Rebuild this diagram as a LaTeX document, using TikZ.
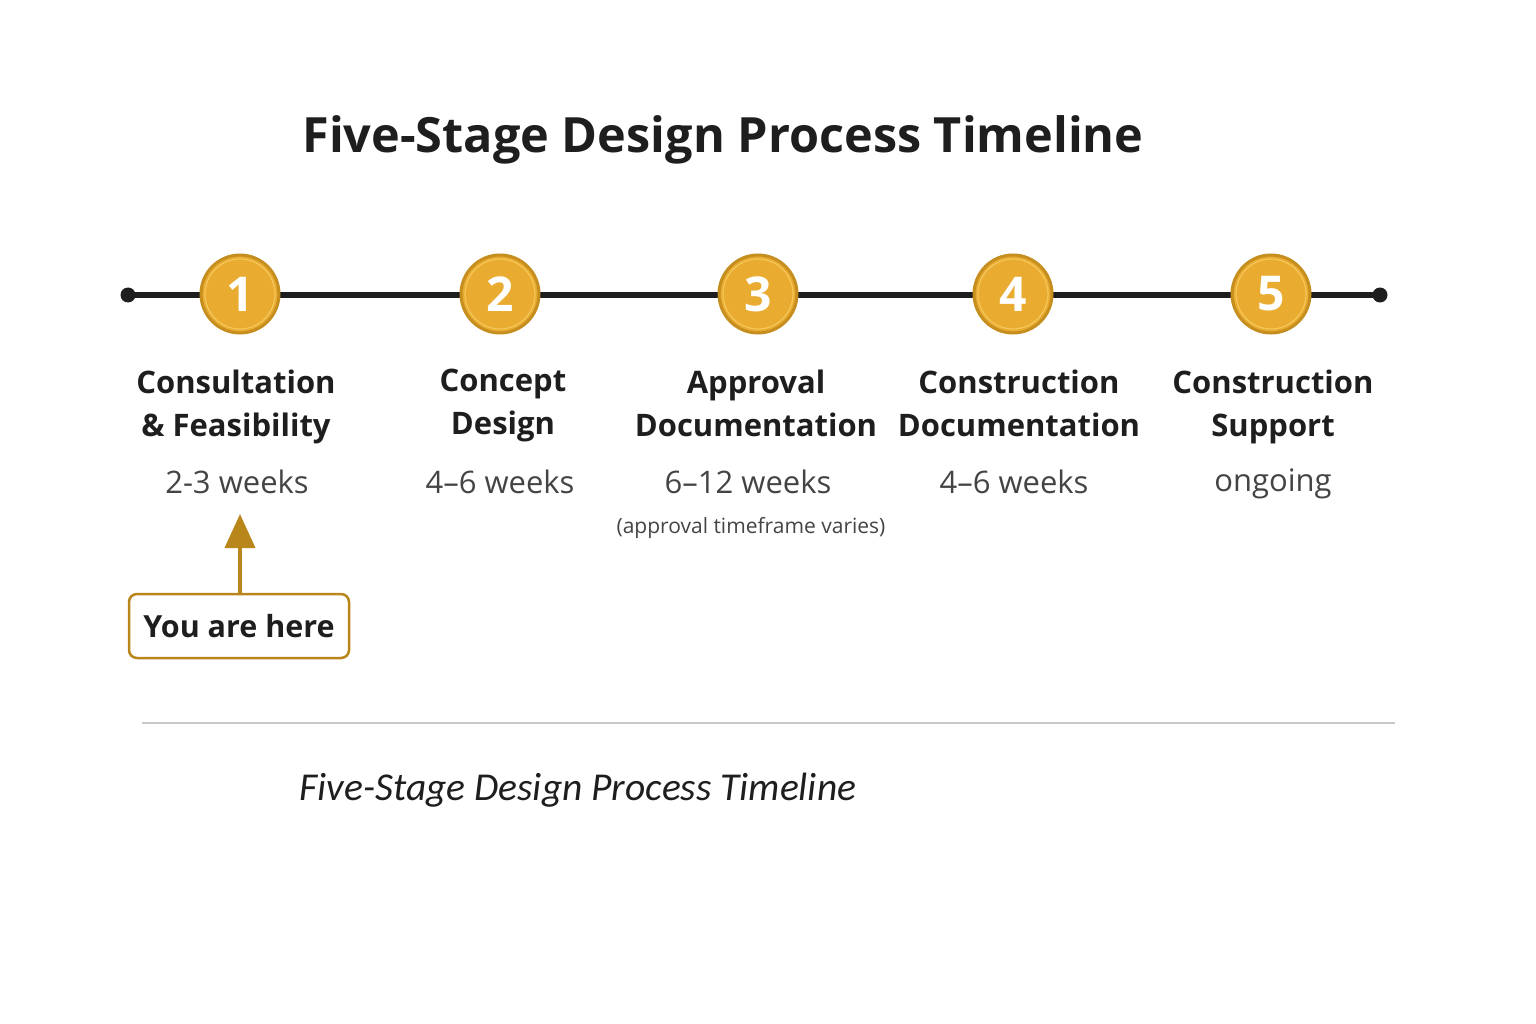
\documentclass[tikz,border=0pt]{standalone}
\usepackage{fontspec}
\setmainfont{Open Sans}
\newfontfamily\capfont{Carlito}
\usetikzlibrary{arrows.meta}
\definecolor{gold}{HTML}{E9AB30}
\definecolor{golddark}{HTML}{C58E1E}
\definecolor{goldlight}{HTML}{F5C75A}
\definecolor{arrowgold}{HTML}{B8861B}
\definecolor{linedark}{HTML}{1E1E1E}
\definecolor{txtgray}{HTML}{444444}
\definecolor{sepgray}{HTML}{C8C8C8}
\tikzset{
  stagecirc/.style={circle, fill=gold, draw=golddark, line width=3pt, minimum size=78pt, inner sep=0pt,
    text=white, font=\fontsize{48}{50}\selectfont\bfseries},
  stagelabel/.style={align=center, text=linedark, font=\fontsize{31}{43}\selectfont\bfseries, anchor=north},
  weeks/.style={text=txtgray, font=\fontsize{31}{34}\selectfont},
  enddot/.style={circle, fill=linedark, minimum size=15pt, inner sep=0pt},
  herebox/.style={draw=arrowgold, line width=2.5pt, rounded corners=8pt, minimum width=220pt, minimum height=64pt,
    font=\fontsize{30.5}{36}\selectfont\bfseries, text=linedark, fill=white},
}
\begin{document}
\begin{tikzpicture}[x=1pt,y=-1pt]
\useasboundingbox (0,0) rectangle (1536,1024);
\fill[white] (0,0) rectangle (1536,1024);
\node[font=\fontsize{48.6}{54}\selectfont\bfseries, text=linedark] (title) at (723,140) {Five-Stage Design Process Timeline};
\node[enddot] (dl) at (128,295) {};
\node[enddot] (dr) at (1380,295) {};
\draw[linedark, line width=6pt] (dl.center) -- (dr.center);
\foreach \n/\x in {1/240,2/500,3/758,4/1013,5/1271}{
  \node[stagecirc] (c\n) at (\x,294) {\n};
  \draw[goldlight, line width=1.2pt] (c\n.center) circle (35pt);
}
\node[stagelabel] (l1) at (236,366) {Consultation\\\& Feasibility};
\node[stagelabel] (l2) at (503,366) {Concept\\Design};
\node[stagelabel] (l3) at (756,366) {Approval\\Documentation};
\node[stagelabel] (l4) at (1019,366) {Construction\\Documentation};
\node[stagelabel] (l5) at (1273,366) {Construction\\Support};
\node[weeks] (w1) at (237,482) {2-3 weeks};
\node[weeks] (w2) at (500,482) {4–6 weeks};
\node[weeks] (w3) at (748,482) {6–12 weeks};
\node[weeks] (w4) at (1014,482) {4–6 weeks};
\node[weeks] (w5) at (1273,484) {ongoing};
\node[text=txtgray, font=\fontsize{21}{25}\selectfont] (note) at (751,528) {(approval timeframe varies)};
\node[herebox] (here) at (239,626) {You are here};
\coordinate (tip) at (240,514);
\draw[arrowgold, line width=4pt, -{Triangle[length=34pt,width=30pt]}] (here.north -| tip) -- (tip);
\coordinate (s1) at (142,723);
\coordinate (s2) at (1395,723);
\draw[sepgray, line width=2pt] (s1) -- (s2);
\node[font=\capfont\itshape\fontsize{39.5}{44}\selectfont, text=linedark] (cap) at (578,790) {Five-Stage Design Process Timeline};
\end{tikzpicture}
\end{document}
